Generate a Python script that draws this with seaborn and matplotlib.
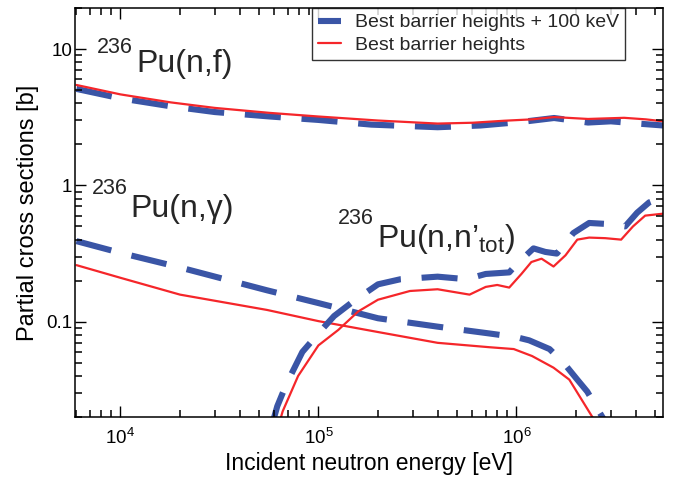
import numpy as np
import pandas as pd
import matplotlib
matplotlib.use("Agg")
import matplotlib.pyplot as plt
import seaborn as sns
from matplotlib.ticker import FixedLocator, FuncFormatter, NullFormatter, LogFormatterSciNotation

# ---------------- data ----------------
fis_red_E = [6e3, 1e4, 1.8e4, 3e4, 5.7e4, 1e5, 2e5, 4e5, 6e5, 8.7e5, 1.2e6, 1.55e6, 2.3e6, 3.5e6, 4.5e6, 5.5e6]
fis_red_xs = [5.45, 4.65, 4.06, 3.70, 3.40, 3.20, 2.99, 2.84, 2.88, 2.98, 3.05, 3.17, 3.07, 3.13, 3.05, 2.95]
fis_blue_E = [6e3, 1e4, 1.8e4, 3e4, 5.7e4, 1e5, 1.85e5, 4e5, 6.6e5, 1.06e6, 1.55e6, 2.3e6, 3e6, 4.1e6, 5.5e6]
fis_blue_xs = [5.10, 4.35, 3.80, 3.45, 3.20, 3.02, 2.79, 2.67, 2.75, 2.92, 3.12, 2.89, 2.95, 2.84, 2.75]

cap_red_E = [6e3, 1e4, 2e4, 5.5e4, 1e5, 2e5, 4e5, 7.3e5, 9.7e5, 1.2e6, 1.54e6, 1.85e6, 2.45e6, 2.6e6]
cap_red_xs = [0.26, 0.21, 0.158, 0.122, 0.101, 0.084, 0.070, 0.065, 0.063, 0.056, 0.046, 0.0376, 0.0194, 0.015]
cap_blue_E = [6e3, 1e4, 2e4, 5.5e4, 1e5, 2e5, 4e5, 7.3e5, 1e6, 1.16e6, 1.47e6, 1.73e6, 2.03e6, 2.28e6, 2.75e6, 2.9e6]
cap_blue_xs = [0.39, 0.32, 0.25, 0.17, 0.137, 0.106, 0.092, 0.082, 0.077, 0.073, 0.063, 0.050, 0.0376, 0.0307, 0.0194, 0.016]

inl_red_E = [6.2e4, 6.6e4, 7.9e4, 1.0e5, 1.26e5, 1.59e5, 2.0e5, 2.9e5, 4.0e5, 5.8e5, 7.0e5, 8.0e5, 9.2e5,
             1.06e6, 1.19e6, 1.34e6, 1.54e6, 1.77e6, 2.03e6, 2.33e6, 2.81e6, 3.38e6, 3.88e6, 4.47e6, 5.5e6]
inl_red_xs = [0.016, 0.022, 0.040, 0.067, 0.087, 0.119, 0.145, 0.168, 0.173, 0.158, 0.180, 0.186, 0.178,
              0.224, 0.274, 0.290, 0.254, 0.307, 0.400, 0.414, 0.410, 0.400, 0.500, 0.600, 0.620]
inl_blue_E = [5.8e4, 6.2e4, 6.9e4, 8.3e4, 1.0e5, 1.2e5, 1.5e5, 2.0e5, 2.6e5, 4.0e5, 5.6e5, 7.0e5, 9.2e5,
              1.0e6, 1.22e6, 1.4e6, 1.6e6, 1.94e6, 2.33e6, 2.94e6, 3.54e6, 4.07e6, 4.68e6, 5.5e6]
inl_blue_xs = [0.017, 0.024, 0.035, 0.060, 0.082, 0.110, 0.141, 0.188, 0.205, 0.214, 0.205, 0.224, 0.230,
               0.263, 0.345, 0.325, 0.316, 0.447, 0.530, 0.520, 0.500, 0.630, 0.750, 0.820]

legend_labels = ["Best barrier heights + 100 keV", "Best barrier heights"]
x_label = "Incident neutron energy [eV]"
y_label = "Partial cross sections [b]"
x_major_ticks = [1e4, 1e5, 1e6]
y_major_ticks = [0.1, 1, 10]
decades = [1e-2, 1e-1, 1e0, 1e1, 1e3, 1e4, 1e5, 1e6]
minor_mult = [2, 3, 4, 5, 6, 7, 8, 9]

# ---------------- style ----------------
sns.set_theme(style="white")
rc = plt.rcParams
rc["font.family"] = ["Liberation Sans", "DejaVu Sans"]
rc["mathtext.fontset"] = "custom"
rc["mathtext.rm"] = "Liberation Sans"
rc["mathtext.it"] = "Liberation Sans:italic"
rc["mathtext.bf"] = "Liberation Sans:bold"
rc["mathtext.default"] = "regular"
rc["axes.axisbelow"] = False
for a in ("xtick", "ytick"):
    rc[f"{a}.direction"] = "in"
    rc[f"{a}.major.size"] = 8
    rc[f"{a}.major.width"] = 1.0
    rc[f"{a}.minor.size"] = 4.8
    rc[f"{a}.minor.width"] = 1.1
    rc[f"{a}.color"] = "black"
    rc[f"{a}.labelcolor"] = "black"
    rc[f"{a}.labelsize"] = 13.5
rc["xtick.top"] = True
rc["ytick.right"] = True
rc["xtick.bottom"] = True
rc["ytick.left"] = True
rc["xtick.major.pad"] = 8
rc["ytick.major.pad"] = 2

BLUE = "#3a55a6"
RED = "#f5262a"

fig = plt.figure(figsize=(6.83, 4.79), dpi=100)
ax = fig.add_axes([75/683, 1 - 417/479, 588/683, 409/479])
ax.set_xscale("log")
ax.set_yscale("log")

def draw(E, xs, color, lw, dashed, label):
    df = pd.DataFrame({"E": E, "xs": xs})
    sns.lineplot(data=df, x="E", y="xs", ax=ax, color=color, lw=lw,
                 sort=False, estimator=None, label=label)
    line = ax.lines[-1]
    if dashed:
        line.set_dashes((5.9, 3.4))
        line.set_dash_capstyle("butt")
    return line

h_blue = draw(fis_blue_E, fis_blue_xs, BLUE, 4.4, True, legend_labels[0])
h_red = draw(fis_red_E, fis_red_xs, RED, 1.6, False, legend_labels[1])
draw(cap_blue_E, cap_blue_xs, BLUE, 4.4, True, None)
draw(cap_red_E, cap_red_xs, RED, 1.6, False, None)
draw(inl_blue_E, inl_blue_xs, BLUE, 4.4, True, None)
draw(inl_red_E, inl_red_xs, RED, 1.6, False, None)

ax.set_xscale("log")
ax.set_yscale("log")
ax.set_xlim(5.9e3, 5.5e6)
ax.set_ylim(0.02, 20)

minor_all = [m * d for d in decades for m in minor_mult]
ax.xaxis.set_major_locator(FixedLocator(x_major_ticks))
ax.yaxis.set_major_locator(FixedLocator(y_major_ticks))
ax.xaxis.set_minor_locator(FixedLocator(minor_all))
ax.yaxis.set_minor_locator(FixedLocator(minor_all))
ax.xaxis.set_major_formatter(LogFormatterSciNotation())
ax.yaxis.set_major_formatter(FuncFormatter(lambda v, _: f"{v:g}"))
ax.xaxis.set_minor_formatter(NullFormatter())
ax.yaxis.set_minor_formatter(NullFormatter())

for s in ax.spines.values():
    s.set_visible(True)
    s.set_linewidth(1.1)
    s.set_color("black")

ax.set_xlabel(x_label, fontsize=16.5, labelpad=3, color="black")
ax.set_ylabel(y_label, fontsize=17, labelpad=5, color="black")

leg = ax.legend(handles=[h_blue, h_red], labels=legend_labels, loc="upper right",
                bbox_to_anchor=(0.935, 1.0), borderaxespad=0, fontsize=14,
                frameon=True, fancybox=False, handlelength=1.2, handletextpad=0.7,
                borderpad=0.3, labelspacing=0.25)
leg.get_frame().set_edgecolor("black")
leg.get_frame().set_linewidth(1.0)

def px(xp, yp):
    return ((xp - 75) / 588, (417 - yp) / 409)

def label(sup_xy, main_xy, main_text):
    ax.text(*px(*sup_xy), "236", transform=ax.transAxes, fontsize=15.5, va="baseline", ha="left")
    ax.text(*px(*main_xy), main_text, transform=ax.transAxes, fontsize=23, va="baseline", ha="left")

label((97, 53), (136, 72), "Pu(n,f)")
label((92, 193.5), (130, 217), "Pu(n,γ)")
label((338, 223.5), (377, 247), "Pu(n,n’$_{tot}$)")

fig.savefig("out.png", dpi=100)
